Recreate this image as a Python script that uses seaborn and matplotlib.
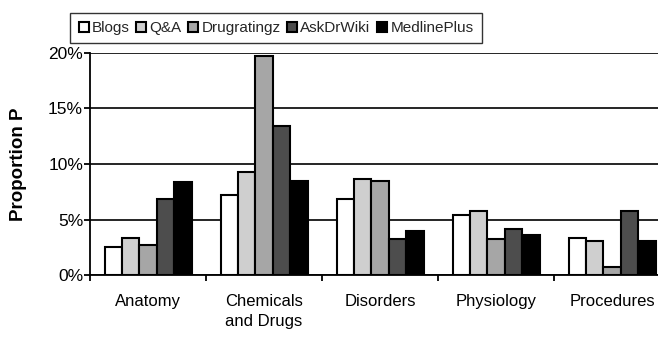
import matplotlib
matplotlib.use("Agg")
import matplotlib.pyplot as plt
import seaborn as sns
import pandas as pd
import numpy as np
from matplotlib.ticker import PercentFormatter, FixedLocator

categories = ["Anatomy", "Chemicals\nand Drugs", "Disorders", "Physiology", "Procedures"]
sources = ["Blogs", "Q&A", "Drugratingz", "AskDrWiki", "MedlinePlus"]

blogs = [2.55, 7.2, 6.85, 5.45, 3.35]
qa = [3.35, 9.3, 8.65, 5.75, 3.05]
drugratingz = [2.7, 19.7, 8.5, 3.2, 0.75]
askdrwiki = [6.85, 13.45, 3.2, 4.15, 5.75]
medlineplus = [8.35, 8.5, 4.0, 3.6, 3.05]

colors = ["#ffffff", "#cfcfcf", "#a6a6a6", "#4d4d4d", "#000000"]

df = pd.DataFrame({
    "Category": categories * 5,
    "Source": sum([[s] * 5 for s in sources], []),
    "P": blogs + qa + drugratingz + askdrwiki + medlineplus,
})

sns.set_theme(style="white")
plt.rcParams["font.family"] = ["Liberation Sans", "DejaVu Sans"]

fig = plt.figure(figsize=(6.58, 3.38), dpi=100)
ax = fig.add_axes([90 / 658, 63 / 338, 580 / 658, 222 / 338])

sns.barplot(data=df, x="Category", y="P", hue="Source", hue_order=sources,
            palette=colors, width=0.75, edgecolor="black", linewidth=1.5,
            ax=ax, legend=True, zorder=3)

ax.set_ylim(0, 20)
ax.set_xlim(-0.5, 4.5)
ax.yaxis.set_major_locator(FixedLocator([0, 5, 10, 15, 20]))
ax.yaxis.set_major_formatter(PercentFormatter(decimals=0))
ax.grid(axis="y", color="black", linewidth=1.2, zorder=0)
ax.set_axisbelow(True)

for side in ["top", "right"]:
    ax.spines[side].set_visible(False)
for side in ["left", "bottom"]:
    ax.spines[side].set_color("black")
    ax.spines[side].set_linewidth(1.3)

# category tick marks sit on the group boundaries
ax.set_xticks(np.arange(5))
ax.set_xticklabels(categories, fontsize=12, color="black", linespacing=1.35)
ax.tick_params(axis="x", length=0, pad=14)
ax.set_xticks(np.arange(-0.5, 5.0, 1.0), minor=True)
ax.tick_params(axis="x", which="minor", length=4, width=1.3, color="black", direction="out", bottom=True)
ax.tick_params(axis="y", length=4, width=1.3, color="black", direction="out", left=True,
               labelsize=12.5, labelcolor="black", pad=1)

ax.set_xlabel("")
ax.set_ylabel("Proportion P", fontsize=13.5, fontweight="bold", color="black", labelpad=15)

handles, labels = ax.get_legend_handles_labels()
ax.legend_.remove()
leg = fig.legend(handles, labels, ncol=5, loc="center", bbox_to_anchor=(276 / 658, 1 - 28 / 338),
                 frameon=True, fancybox=False, edgecolor="black", fontsize=11,
                 handlelength=0.65, handleheight=0.65, handletextpad=0.2, columnspacing=0.45,
                 borderpad=0.55, borderaxespad=0)
leg.get_frame().set_linewidth(1.0)

fig.savefig("out.png", dpi=100)
